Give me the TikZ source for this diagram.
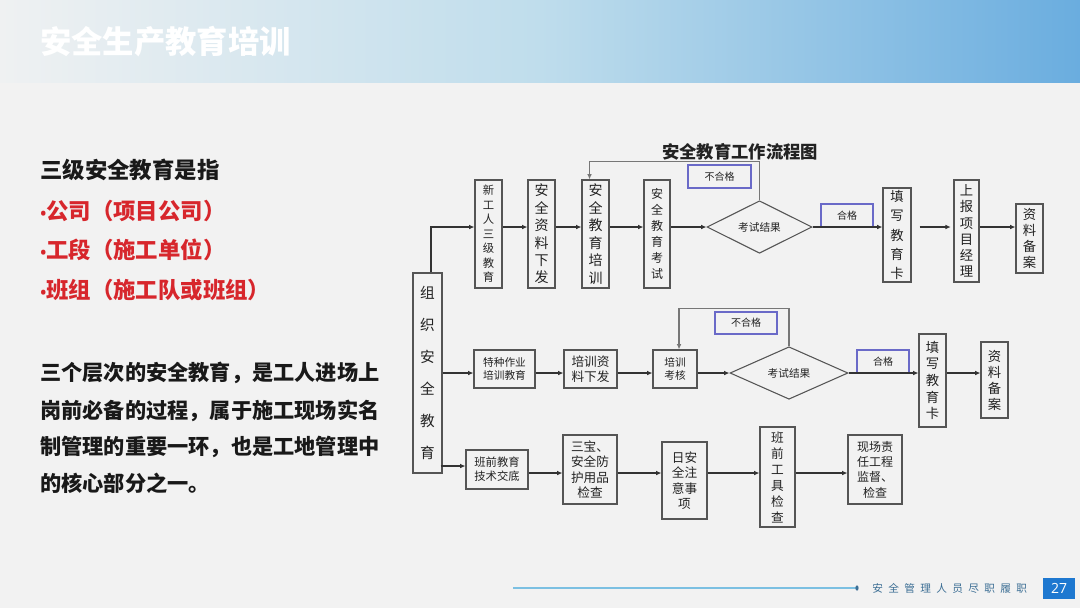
\documentclass[tikz,border=0pt]{standalone}
\usepackage{fontspec}
\newfontfamily\cjk{Noto Sans CJK SC}
\newfontfamily\numf{Open Sans}
\usetikzlibrary{shapes.geometric,arrows.meta,calc}
\definecolor{bg}{HTML}{F2F2F2}
\definecolor{boxc}{HTML}{555555}
\definecolor{linec}{HTML}{333333}
\definecolor{loopc}{HTML}{777777}
\definecolor{lblc}{HTML}{6A6AC8}
\definecolor{txt}{HTML}{222222}
\definecolor{redt}{HTML}{D7262C}
\definecolor{hdrL}{HTML}{EFF1F2}
\definecolor{hdrM}{HTML}{BFDDEC}
\definecolor{hdrR}{HTML}{6AADDF}
\definecolor{footl}{HTML}{7CC0E2}
\definecolor{foott}{HTML}{3D6F95}
\definecolor{pgbox}{HTML}{1E78D0}
\newcommand{\bul}{{\numf\fontsize{12}{14}\selectfont\textbullet}}
\begin{document}
\begin{tikzpicture}[x=0.75pt,y=-0.75pt,font=\cjk,
  box/.style={draw=boxc, line width=0.8pt, fill=bg, inner sep=0pt, align=center, text=txt},
  sz/.style 2 args={minimum width=#1*0.75pt, minimum height=#2*0.75pt},
  fs/.style 2 args={font=\cjk\fontsize{#1}{#2}\selectfont},
  arr/.style={draw=linec, line width=0.8pt, -{Latex[length=4pt,width=3.5pt]}},
  looparr/.style={draw=loopc, line width=0.8pt, -{Latex[length=4pt,width=3.5pt]}},
  lbl/.style={draw=lblc, line width=0.9pt, fill=bg, inner sep=0pt, text=txt, font=\cjk\fontsize{7.5}{9}\selectfont},
  dia/.style={diamond, draw=boxc, line width=0.8pt, fill=bg, inner sep=0pt, text=txt, font=\cjk\fontsize{8}{10}\selectfont}]
\useasboundingbox (0,0) rectangle (1080,608);
\fill[bg] (0,0) rectangle (1080,608);
% header
\shade[left color=hdrL, right color=hdrR, middle color=hdrM] (0,0) rectangle (1080,82);
\node[anchor=west, inner sep=0pt, text=white, font=\cjk\bfseries\fontsize{23.5}{27}\selectfont] (title) at (40,42) {安全生产教育培训};

% left text
\node[anchor=west, inner sep=0pt, text=black!90, font=\cjk\bfseries\fontsize{16.8}{20}\selectfont] (h1) at (40,170) {三级安全教育是指};
\node[anchor=west, inner sep=0pt, text=redt, font=\cjk\bfseries\fontsize{16.8}{20}\selectfont] (l1) at (40,211) {\bul 公司（项目公司）};
\node[anchor=west, inner sep=0pt, text=redt, font=\cjk\bfseries\fontsize{16.8}{20}\selectfont] (l2) at (40,250) {\bul 工段（施工单位）};
\node[anchor=west, inner sep=0pt, text=redt, font=\cjk\bfseries\fontsize{16.8}{20}\selectfont] (l3) at (40,290) {\bul 班组（施工队或班组）};
\node[anchor=west, inner sep=0pt, text=black!90, font=\cjk\bfseries\fontsize{15.9}{20}\selectfont] (p1) at (40,373) {三个层次的安全教育，是工人进场上};
\node[anchor=west, inner sep=0pt, text=black!90, font=\cjk\bfseries\fontsize{15.9}{20}\selectfont] (p2) at (40,411) {岗前必备的过程，属于施工现场实名};
\node[anchor=west, inner sep=0pt, text=black!90, font=\cjk\bfseries\fontsize{15.9}{20}\selectfont] (p3) at (40,447) {制管理的重要一环，也是工地管理中};
\node[anchor=west, inner sep=0pt, text=black!90, font=\cjk\bfseries\fontsize{15.9}{20}\selectfont] (p4) at (40,483) {的核心部分之一。};

% diagram title
\node[inner sep=0pt, text=txt, font=\cjk\bfseries\fontsize{13}{15}\selectfont] (dt) at (740,152) {安全教育工作流程图};

% org box
\node[box, sz={29}{200}, fs={11}{24}] (org) at (427.5,373) {组\\织\\安\\全\\教\\育};

% row 1
\node[box, sz={27}{108}, fs={8.5}{10.9}] (b1) at (488.5,234) {新\\工\\人\\三\\级\\教\\育};
\node[box, sz={27}{108}, fs={10.5}{13.1}] (b2) at (541.5,234) {安\\全\\资\\料\\下\\发};
\node[box, sz={27}{108}, fs={10.5}{13.1}] (b3) at (595.5,234) {安\\全\\教\\育\\培\\训};
\node[box, sz={26}{108}, fs={9}{12}] (b4) at (657,234) {安\\全\\教\\育\\考\\试};
\node[dia, sz={105}{45}] (d1) at (759.5,227) {考试结果};
\node[box, sz={28}{94}, fs={10}{14.5}] (b5) at (897,235) {填\\写\\教\\育\\卡};
\node[box, sz={25}{102}, fs={10}{12.2}] (b6) at (966.5,231) {上\\报\\项\\目\\经\\理};
\node[box, sz={27}{69}, fs={10}{12}] (b7) at (1029.5,238.5) {资\\料\\备\\案};
\node[lbl, sz={63}{23}] (nf1) at (719.5,176.5) {不合格};
\node[lbl, sz={52}{23}] (hg1) at (847,215.5) {合格};

\draw[arr] ([xshift=2.6pt]org.north) |- (b1.west |- 0,227);
\draw[arr] (b1.east |- 0,227) -- (b2.west |- 0,227);
\draw[arr] (b2.east |- 0,227) -- (b3.west |- 0,227);
\draw[arr] (b3.east |- 0,227) -- (b4.west |- 0,227);
\draw[arr] (b4.east |- 0,227) -- (d1.west);
\draw[arr] (d1.east) -- (b5.west |- 0,227);
\draw[arr] ([xshift=6pt]b5.east |- 0,227) -- ([xshift=-2pt]b6.west |- 0,227);
\draw[arr] (b6.east |- 0,227) -- (b7.west |- 0,227);
\draw[looparr] (d1.north) -- ++(0,-39) -| ([xshift=-4.5pt]b3.north);

% row 2
\node[box, sz={61}{38}, fs={8}{10}] (r2a) at (504.5,369) {特种作业\\培训教育};
\node[box, sz={53}{38}, fs={9.5}{11.5}] (r2b) at (590.5,369) {培训资\\料下发};
\node[box, sz={44}{38}, fs={8}{10}] (r2c) at (675,369) {培训\\考核};
\node[dia, sz={118}{46}] (d2) at (789,373) {考试结果};
\node[box, sz={27}{93}, fs={10}{12.5}] (r2d) at (932.5,380.5) {填\\写\\教\\育\\卡};
\node[box, sz={27}{76}, fs={10}{12}] (r2e) at (994.5,380) {资\\料\\备\\案};
\node[lbl, sz={62}{22}] (nf2) at (746,323) {不合格};
\node[lbl, sz={52}{23}] (hg2) at (883,361.5) {合格};

\draw[arr] (org.east |- 0,373) -- (r2a.west |- 0,373);
\draw[arr] (r2a.east |- 0,373) -- (r2b.west |- 0,373);
\draw[arr] (r2b.east |- 0,373) -- (r2c.west |- 0,373);
\draw[arr] (r2c.east |- 0,373) -- (d2.west);
\draw[arr] (d2.east) -- (r2d.west |- 0,373);
\draw[arr] (r2d.east |- 0,373) -- (r2e.west |- 0,373);
\draw[looparr] (d2.north) -- ++(0,-38) -| ([xshift=3pt]r2c.north);

% row 3
\node[box, sz={62}{39}, fs={8.5}{10.5}] (r3a) at (497,469.5) {班前教育\\技术交底};
\node[box, sz={54}{69}, fs={9.5}{11.5}] (r3b) at (590,469.5) {三宝、\\安全防\\护用品\\检查};
\node[box, sz={45}{77}, fs={9.5}{11.5}] (r3c) at (684.5,480.5) {日安\\全注\\意事\\项};
\node[box, sz={35}{100}, fs={9.5}{12}] (r3d) at (777.5,477) {班\\前\\工\\具\\检\\查};
\node[box, sz={54}{69}, fs={9}{11.5}] (r3e) at (875,469.5) {现场责\\任工程\\监督、\\检查};

\draw[arr] ([xshift=-1.5pt]org.east |- 0,466) -- (r3a.west |- 0,466);
\draw[arr] (r3a.east |- 0,473) -- (r3b.west |- 0,473);
\draw[arr] (r3b.east |- 0,473) -- (r3c.west |- 0,473);
\draw[arr] (r3c.east |- 0,473) -- (r3d.west |- 0,473);
\draw[arr] (r3d.east |- 0,473) -- (r3e.west |- 0,473);

% footer
\coordinate (fs) at (513,588);
\coordinate (fe) at (857,588);
\draw[footl, line width=1.3pt] (fs) -- (fe);
\fill[foott] (fe) ellipse (1.2pt and 2pt);
\node[anchor=west, inner sep=0pt, text=foott, font=\cjk\fontsize{8}{10}\selectfont] (ft) at (872,588)
  {安\hspace{4pt}全\hspace{4pt}管\hspace{4pt}理\hspace{4pt}人\hspace{4pt}员\hspace{4pt}尽\hspace{4pt}职\hspace{4pt}履\hspace{4pt}职};
\node[fill=pgbox, text=white, inner sep=0pt, sz={32}{21}, font=\numf\fontsize{10.5}{12}\selectfont] (pg) at (1059,588) {27};
\end{tikzpicture}
\end{document}
